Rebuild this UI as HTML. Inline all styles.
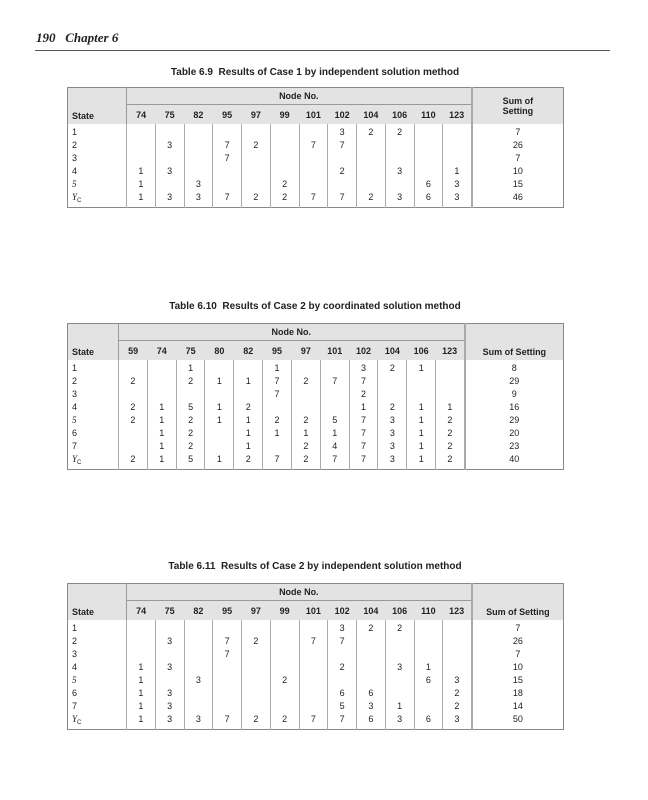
<!DOCTYPE html>
<html><head><meta charset="utf-8"><style>
body{margin:0;width:648px;height:800px;background:#fff;position:relative;font-family:"Liberation Sans",sans-serif;color:#222;overflow:hidden}
.hd{position:absolute;left:36px;top:30px;font-size:13px;font-weight:bold;font-style:italic;font-family:"Liberation Serif",serif}
.rule{position:absolute;left:35px;top:50px;width:575px;height:1px;background:#555}
.title{position:absolute;left:67px;width:496px;text-align:center;font-size:10px;font-weight:bold}
table{position:absolute;left:67px;width:496px;border-collapse:collapse;table-layout:fixed;font-size:9px;border:1px solid #888}
th{background:#e3e3e3;font-weight:bold;padding:0;text-align:center}
td{padding:0;text-align:center;height:13px;line-height:13px;border-left:1px solid #aaa;overflow:hidden}
td.s{text-align:left;padding-left:4px;border-left:none}
td.sum{border-left:2px solid #aaa}
th.s{text-align:left;padding-left:4px;vertical-align:bottom;padding-bottom:3px}
th.sum{border-left:2px solid #aaa}
th.nn{height:16px;border-bottom:1px solid #999;border-left:1px solid #999}
th.n{height:19px}
th.n1{border-left:1px solid #999}
tr.pad td{height:2px;line-height:2px}
tr.padb td{height:3px;line-height:3px}
i{font-family:"Liberation Serif",serif}
sub{font-size:6px;vertical-align:baseline;position:relative;top:2px;line-height:0}
</style></head><body>
<div class="hd">190&nbsp;&nbsp;&nbsp;Chapter 6</div>
<div class="rule"></div>

<div class="title" style="top:67px">Table 6.9&nbsp; Results of Case 1 by independent solution method</div>
<table style="top:87px">
<colgroup><col style="width:59px"><col span="12" style="width:28.75px"><col style="width:92px"></colgroup>
<tr><th class="s" rowspan="2">State</th><th class="nn" colspan="12">Node No.</th><th class="sum" rowspan="2">Sum of<br>Setting</th></tr>
<tr><th class="n n1">74</th><th class="n">75</th><th class="n">82</th><th class="n">95</th><th class="n">97</th><th class="n">99</th><th class="n">101</th><th class="n">102</th><th class="n">104</th><th class="n">106</th><th class="n">110</th><th class="n">123</th></tr>
<tr class="pad"><td class="s"></td><td></td><td></td><td></td><td></td><td></td><td></td><td></td><td></td><td></td><td></td><td></td><td></td><td class="sum"></td></tr>
<tr><td class="s">1</td><td></td><td></td><td></td><td></td><td></td><td></td><td></td><td>3</td><td>2</td><td>2</td><td></td><td></td><td class="sum">7</td></tr>
<tr><td class="s">2</td><td></td><td>3</td><td></td><td>7</td><td>2</td><td></td><td>7</td><td>7</td><td></td><td></td><td></td><td></td><td class="sum">26</td></tr>
<tr><td class="s">3</td><td></td><td></td><td></td><td>7</td><td></td><td></td><td></td><td></td><td></td><td></td><td></td><td></td><td class="sum">7</td></tr>
<tr><td class="s">4</td><td>1</td><td>3</td><td></td><td></td><td></td><td></td><td></td><td>2</td><td></td><td>3</td><td></td><td>1</td><td class="sum">10</td></tr>
<tr><td class="s"><i>5</i></td><td>1</td><td></td><td>3</td><td></td><td></td><td>2</td><td></td><td></td><td></td><td></td><td>6</td><td>3</td><td class="sum">15</td></tr>
<tr><td class="s"><i>Y</i><sub>C</sub></td><td>1</td><td>3</td><td>3</td><td>7</td><td>2</td><td>2</td><td>7</td><td>7</td><td>2</td><td>3</td><td>6</td><td>3</td><td class="sum">46</td></tr>
<tr class="padb"><td class="s"></td><td></td><td></td><td></td><td></td><td></td><td></td><td></td><td></td><td></td><td></td><td></td><td></td><td class="sum"></td></tr>
</table>

<div class="title" style="top:301px">Table 6.10&nbsp; Results of Case 2 by coordinated solution method</div>
<table style="top:323px">
<colgroup><col style="width:51px"><col span="12" style="width:28.83px"><col style="width:99px"></colgroup>
<tr><th class="s" rowspan="2">State</th><th class="nn" colspan="12">Node No.</th><th class="sum" rowspan="2" style="vertical-align:bottom;padding-bottom:3px">Sum of Setting</th></tr>
<tr><th class="n n1">59</th><th class="n">74</th><th class="n">75</th><th class="n">80</th><th class="n">82</th><th class="n">95</th><th class="n">97</th><th class="n">101</th><th class="n">102</th><th class="n">104</th><th class="n">106</th><th class="n">123</th></tr>
<tr class="pad"><td class="s"></td><td></td><td></td><td></td><td></td><td></td><td></td><td></td><td></td><td></td><td></td><td></td><td></td><td class="sum"></td></tr>
<tr><td class="s">1</td><td></td><td></td><td>1</td><td></td><td></td><td>1</td><td></td><td></td><td>3</td><td>2</td><td>1</td><td></td><td class="sum">8</td></tr>
<tr><td class="s">2</td><td>2</td><td></td><td>2</td><td>1</td><td>1</td><td>7</td><td>2</td><td>7</td><td>7</td><td></td><td></td><td></td><td class="sum">29</td></tr>
<tr><td class="s">3</td><td></td><td></td><td></td><td></td><td></td><td>7</td><td></td><td></td><td>2</td><td></td><td></td><td></td><td class="sum">9</td></tr>
<tr><td class="s">4</td><td>2</td><td>1</td><td>5</td><td>1</td><td>2</td><td></td><td></td><td></td><td>1</td><td>2</td><td>1</td><td>1</td><td class="sum">16</td></tr>
<tr><td class="s"><i>5</i></td><td>2</td><td>1</td><td>2</td><td>1</td><td>1</td><td>2</td><td>2</td><td>5</td><td>7</td><td>3</td><td>1</td><td>2</td><td class="sum">29</td></tr>
<tr><td class="s">6</td><td></td><td>1</td><td>2</td><td></td><td>1</td><td>1</td><td>1</td><td>1</td><td>7</td><td>3</td><td>1</td><td>2</td><td class="sum">20</td></tr>
<tr><td class="s">7</td><td></td><td>1</td><td>2</td><td></td><td>1</td><td></td><td>2</td><td>4</td><td>7</td><td>3</td><td>1</td><td>2</td><td class="sum">23</td></tr>
<tr><td class="s"><i>Y</i><sub>C</sub></td><td>2</td><td>1</td><td>5</td><td>1</td><td>2</td><td>7</td><td>2</td><td>7</td><td>7</td><td>3</td><td>1</td><td>2</td><td class="sum">40</td></tr>
<tr class="padb"><td class="s"></td><td></td><td></td><td></td><td></td><td></td><td></td><td></td><td></td><td></td><td></td><td></td><td></td><td class="sum"></td></tr>
</table>

<div class="title" style="top:561px">Table 6.11&nbsp; Results of Case 2 by independent solution method</div>
<table style="top:583px">
<colgroup><col style="width:59px"><col span="12" style="width:28.75px"><col style="width:92px"></colgroup>
<tr><th class="s" rowspan="2">State</th><th class="nn" colspan="12">Node No.</th><th class="sum" rowspan="2" style="vertical-align:bottom;padding-bottom:3px">Sum of Setting</th></tr>
<tr><th class="n n1">74</th><th class="n">75</th><th class="n">82</th><th class="n">95</th><th class="n">97</th><th class="n">99</th><th class="n">101</th><th class="n">102</th><th class="n">104</th><th class="n">106</th><th class="n">110</th><th class="n">123</th></tr>
<tr class="pad"><td class="s"></td><td></td><td></td><td></td><td></td><td></td><td></td><td></td><td></td><td></td><td></td><td></td><td></td><td class="sum"></td></tr>
<tr><td class="s">1</td><td></td><td></td><td></td><td></td><td></td><td></td><td></td><td>3</td><td>2</td><td>2</td><td></td><td></td><td class="sum">7</td></tr>
<tr><td class="s">2</td><td></td><td>3</td><td></td><td>7</td><td>2</td><td></td><td>7</td><td>7</td><td></td><td></td><td></td><td></td><td class="sum">26</td></tr>
<tr><td class="s">3</td><td></td><td></td><td></td><td>7</td><td></td><td></td><td></td><td></td><td></td><td></td><td></td><td></td><td class="sum">7</td></tr>
<tr><td class="s">4</td><td>1</td><td>3</td><td></td><td></td><td></td><td></td><td></td><td>2</td><td></td><td>3</td><td>1</td><td></td><td class="sum">10</td></tr>
<tr><td class="s"><i>5</i></td><td>1</td><td></td><td>3</td><td></td><td></td><td>2</td><td></td><td></td><td></td><td></td><td>6</td><td>3</td><td class="sum">15</td></tr>
<tr><td class="s">6</td><td>1</td><td>3</td><td></td><td></td><td></td><td></td><td></td><td>6</td><td>6</td><td></td><td></td><td>2</td><td class="sum">18</td></tr>
<tr><td class="s">7</td><td>1</td><td>3</td><td></td><td></td><td></td><td></td><td></td><td>5</td><td>3</td><td>1</td><td></td><td>2</td><td class="sum">14</td></tr>
<tr><td class="s"><i>Y</i><sub>C</sub></td><td>1</td><td>3</td><td>3</td><td>7</td><td>2</td><td>2</td><td>7</td><td>7</td><td>6</td><td>3</td><td>6</td><td>3</td><td class="sum">50</td></tr>
<tr class="padb"><td class="s"></td><td></td><td></td><td></td><td></td><td></td><td></td><td></td><td></td><td></td><td></td><td></td><td></td><td class="sum"></td></tr>
</table>
</body></html>
